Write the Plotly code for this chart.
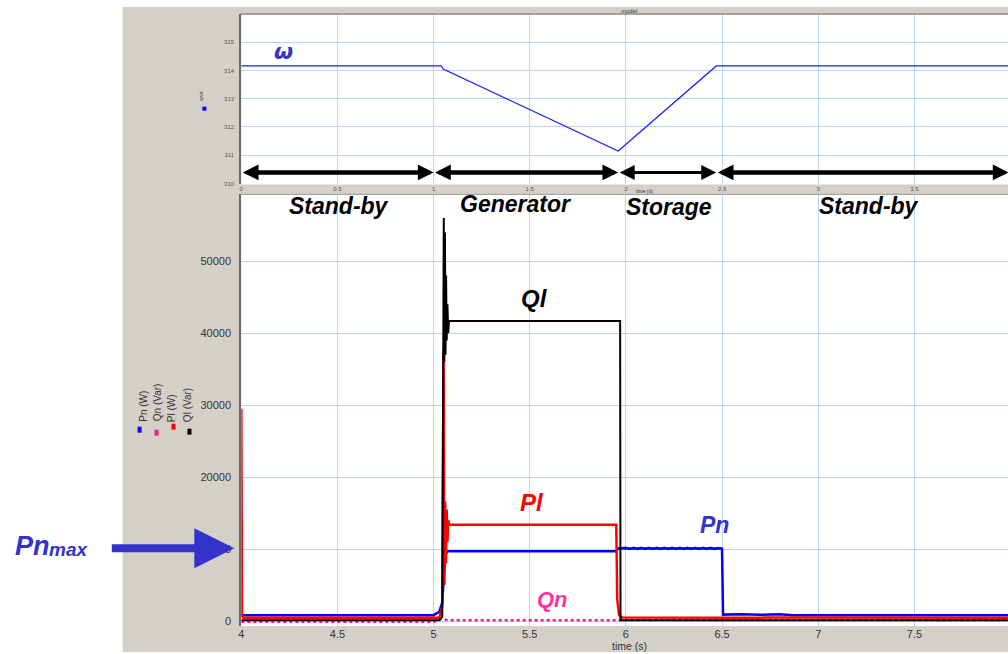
import plotly.graph_objects as go

W, H = 1008, 654
def px(x): return x / W
def py(y): return 1 - y / H

# ---------------- data ----------------
# top plot: rotor speed omega (rad/s)
t_w = [0.0, 1.04, 1.05, 1.96, 2.47, 3.99]
w_rot = [314.16, 314.16, 314.05, 311.15, 314.16, 314.16]

# bottom plot: powers
t_pn = [4.0, 5.0, 5.03, 5.045, 5.06, 5.07, 5.95, 5.96, 6.495, 6.5, 6.505, 6.6, 6.7, 6.8, 6.87, 8.0]
pn = [800, 820, 1300, 2600, 9000, 9700, 9700, 10100, 10100, 10000, 900, 950, 880, 950, 800, 800]

# storage-phase ripple on Pn
t_pn_st = [5.96, 6.0, 6.02, 6.04, 6.06, 6.08, 6.1, 6.12, 6.14, 6.16, 6.18, 6.2, 6.22, 6.24, 6.26,
           6.28, 6.3, 6.32, 6.34, 6.36, 6.38, 6.4, 6.42, 6.44, 6.46, 6.48, 6.5]
pn_st = [10100, 10220, 9980, 10220, 9980, 10220, 9980, 10220, 9980, 10220, 9980, 10220, 9980, 10220, 9980,
         10220, 9980, 10220, 9980, 10220, 9980, 10220, 9980, 10220, 9980, 10200, 10100]

t_qn = [4.0, 5.0, 5.04, 5.06, 5.08, 8.0]
qn = [-100, -100, 300, 150, 100, 100]

t_pl = [4.0, 4.001, 4.004, 4.01, 5.03, 5.045, 5.052, 5.056, 5.06, 5.064,
        5.068, 5.072, 5.076, 5.08, 5.95, 5.955, 5.965, 5.98, 8.0]
pl = [29500, 1200, 700, 450, 450, 2000, 38000, 5000, 16600, 8000,
      15500, 11000, 14000, 13400, 13400, 3000, 800, 500, 450]

t_ql = [4.0, 5.03, 5.045, 5.05, 5.053, 5.056, 5.059, 5.062, 5.065, 5.068,
        5.072, 5.076, 5.08, 5.09, 5.97, 5.972, 8.0]
ql = [100, 100, 600, 30000, 56000, 36000, 54000, 37000, 48000, 39000,
      44000, 40000, 41700, 41700, 41700, 100, 100]

phase_bounds = [0.0, 1.0, 1.96, 2.47, 3.99]
phase_labels = ["Stand-by", "Generator", "Storage", "Stand-by"]
phase_label_px = [(337, 207), (514, 205), (668, 208), (869, 207)]

top_xticks = [0, 0.5, 1, 1.5, 2, 2.5, 3, 3.5]
top_yticks = [310, 311, 312, 313, 314, 315]
bot_xticks = [4, 4.5, 5, 5.5, 6, 6.5, 7, 7.5]
bot_yticks = [0, 10000, 20000, 30000, 40000, 50000]

legend_names = ["Pn (W)", "Qn (Var)", "Pl (W)", "Ql (Var)"]
legend_colors = ["#0000ff", "#ff1493", "#ff0000", "#000000"]

# ---------------- figure ----------------
fig = go.Figure()

fig.add_trace(go.Scatter(x=t_w, y=w_rot, mode="lines", line=dict(color="#1a1aff", width=1.2),
                         xaxis="x", yaxis="y", showlegend=False))

fig.add_trace(go.Scatter(x=t_qn, y=qn, mode="lines", line=dict(color="#ff1493", width=2.5, dash="dot"),
                         xaxis="x2", yaxis="y2", showlegend=False))
fig.add_trace(go.Scatter(x=t_pn, y=pn, mode="lines", line=dict(color="#0000ff", width=2.5),
                         xaxis="x2", yaxis="y2", showlegend=False))
fig.add_trace(go.Scatter(x=t_pn_st, y=pn_st, mode="lines", line=dict(color="#0000ff", width=2),
                         xaxis="x2", yaxis="y2", showlegend=False))
fig.add_trace(go.Scatter(x=t_pl, y=pl, mode="lines", line=dict(color="#ff0000", width=2.5),
                         xaxis="x2", yaxis="y2", showlegend=False))
fig.add_trace(go.Scatter(x=t_ql, y=ql, mode="lines", line=dict(color="#000000", width=2),
                         xaxis="x2", yaxis="y2", showlegend=False))

grid = "#b8d6f2"
tickfont_small = dict(family="Liberation Sans", size=6, color="#555555")
tickfont = dict(family="Liberation Sans", size=11, color="#333333")

fig.update_layout(
    width=W, height=H, margin=dict(l=0, r=0, t=0, b=0),
    paper_bgcolor="white", plot_bgcolor="white",
    showlegend=False,
    xaxis=dict(domain=[px(239), 1], range=[0, 3.987], tickvals=top_xticks,
               ticktext=["0", "0.5", "1", "1.5", "2", "2.5", "3", "3.5"],
               showgrid=True, gridcolor=grid, gridwidth=1, zeroline=False,
               tickfont=tickfont_small, ticks="", ticklabelstandoff=0, anchor="y"),
    yaxis=dict(domain=[py(185), py(14)], range=[309.965, 316.0], tickvals=top_yticks,
               showgrid=True, gridcolor=grid, gridwidth=1, zeroline=False,
               tickfont=tickfont_small, ticks="", ticklabelstandoff=4,
               showline=True, linecolor="#6a6a6a", linewidth=2, anchor="x"),
    xaxis2=dict(domain=[px(239), 1], range=[4, 7.987], tickvals=bot_xticks,
                ticktext=["4", "4.5", "5", "5.5", "6", "6.5", "7", "7.5"],
                showgrid=True, gridcolor=grid, gridwidth=1, zeroline=False,
                tickfont=tickfont, ticks="", ticklabelstandoff=0,
                anchor="y2"),
    yaxis2=dict(domain=[py(628), py(195)], range=[-693, 59280], tickvals=bot_yticks,
                ticktext=["0", "10000", "20000", "30000", "40000", "50000"],
                showgrid=True, gridcolor=grid, gridwidth=1, zeroline=False,
                tickfont=tickfont, ticks="", ticklabelstandoff=6,
                showline=True, linecolor="#6a6a6a", linewidth=2, anchor="x2"),
)

panel = "#d4d0c8"
shapes = [
    # grey application panel, then white plot areas on top of it (all below gridlines)
    dict(type="rect", xref="paper", yref="paper", x0=px(120), x1=1, y0=0, y1=py(7),
         fillcolor=panel, line=dict(width=0), layer="below"),
    dict(type="rect", xref="paper", yref="paper", x0=px(239), x1=1, y0=py(185), y1=py(14),
         fillcolor="white", line=dict(width=0), layer="below"),
    dict(type="rect", xref="paper", yref="paper", x0=px(239), x1=1, y0=py(628), y1=py(195),
         fillcolor="white", line=dict(width=0), layer="below"),
    dict(type="line", xref="paper", yref="paper", x0=px(238), x1=1, y0=py(14), y1=py(14),
         line=dict(color="#8a8a8a", width=1.5)),
    dict(type="line", xref="paper", yref="paper", x0=px(238), x1=1, y0=py(195), y1=py(195),
         line=dict(color="#9a9a9a", width=1)),
]
fig.update_layout(shapes=shapes)

ann = []
# phase arrows in top plot
arrow_y = 310.39
for i in range(len(phase_bounds) - 1):
    a, b = phase_bounds[i], phase_bounds[i + 1]
    wdt = 3 if i == 2 else 4.5
    ann.append(dict(xref="x", yref="y", axref="x", ayref="y", x=b, y=arrow_y, ax=a, ay=arrow_y,
                    showarrow=True, arrowhead=2, arrowside="end+start",
                    arrowsize=0.7 if i != 2 else 1.0,
                    arrowwidth=wdt, arrowcolor="black", text=""))

def label(x, y, text, size, color, family="Liberation Sans", **kw):
    d = dict(xref="paper", yref="paper", x=px(x), y=py(y), text=text, showarrow=False,
             xanchor="center", yanchor="middle", font=dict(family=family, size=size, color=color))
    d.update(kw)
    return d

for lab, (x, y) in zip(phase_labels, phase_label_px):
    ann.append(label(x, y, f"<b><i>{lab}</i></b>", 23, "black"))

# series labels
ann += [
    label(281, 52, "<b><i>ω</i></b>", 22, "#3333cc", family="DejaVu Sans"),
    label(533, 299, "<b><i>Ql</i></b>", 24, "black"),
    label(531, 504, "<b><i>Pl</i></b>", 24, "#ff0000"),
    label(714, 527, "<b><i>Pn</i></b>", 23, "#3333cc"),
    label(551, 601, "<b><i>Qn</i></b>", 22, "#ff3399"),
    label(30, 548, "<b><i>Pn</i></b>", 27, "#3333cc"),
    label(66, 551, "<b><i>max</i></b>", 19, "#3333cc"),
    # small titles
    label(628, 11, "model", 6, "#333333"),
    label(643, 192, "time (s)", 5, "#333333"),
    label(628, 648, "time (s)", 10.5, "#333333"),
    label(198, 96, "wrot", 5, "#333333", textangle=-90),
]
# Pnmax arrow
ann.append(dict(xref="paper", yref="paper", x=px(232), y=py(550), ax=-124, ay=0, text="",
                showarrow=True, arrowhead=2, arrowsize=1, arrowwidth=8, arrowcolor="#3333cc"))

# legend (rotated labels with colour squares)
leg_x = [141, 155, 169, 185]
leg_sq = [(137, 431), (154, 434), (171, 428), (187, 433)]
for name, col, x, (sx, sy) in zip(legend_names, legend_colors, leg_x, leg_sq):
    ann.append(dict(xref="paper", yref="paper", x=px(x), y=py(425), text=name, showarrow=False,
                    textangle=-90, xanchor="center", yanchor="bottom",
                    font=dict(family="Liberation Sans", size=10, color="#333333")))
    fig.add_shape(type="rect", xref="paper", yref="paper", x0=px(sx - 2), x1=px(sx + 2),
                  y0=py(sy + 3), y1=py(sy - 3), fillcolor=col, line=dict(width=0))
fig.add_shape(type="rect", xref="paper", yref="paper", x0=px(200), x1=px(204),
              y0=py(111), y1=py(107), fillcolor="#0000ff", line=dict(width=0))

fig.update_layout(annotations=ann)
fig.write_html("out.html", config={"displayModeBar": False},
               post_script="document.body.style.margin='0';document.body.style.padding='0';")
